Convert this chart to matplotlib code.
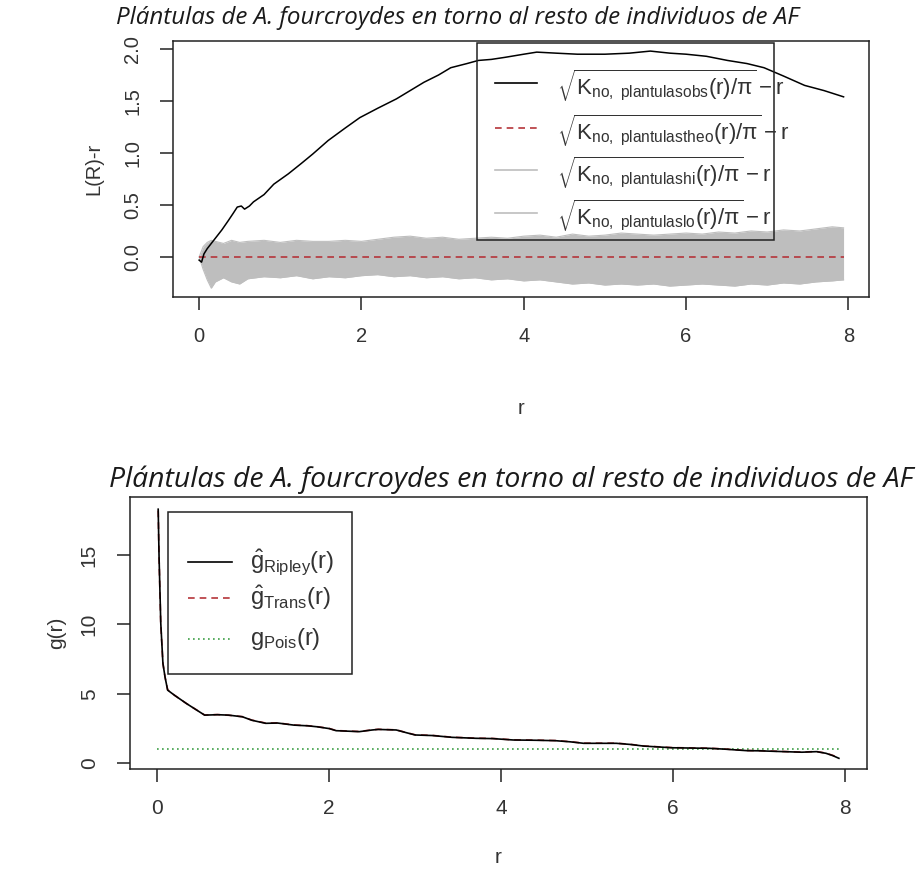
import matplotlib
matplotlib.use("Agg")
import matplotlib.pyplot as plt
from matplotlib.patches import Rectangle
from matplotlib.lines import Line2D

plt.rcParams['font.family'] = ['Liberation Sans', 'DejaVu Sans']
plt.rcParams['mathtext.fontset'] = 'custom'
plt.rcParams['mathtext.rm'] = 'Liberation Sans'
plt.rcParams['mathtext.it'] = 'Liberation Sans:italic'
plt.rcParams['mathtext.bf'] = 'Liberation Sans:bold'

# ---------------- data ----------------
title_text = "Plántulas de A. fourcroydes en torno al resto de individuos de AF"

# top panel: L-function
r_obs = [0, 0.03, 0.06, 0.1, 0.2, 0.28, 0.36, 0.42, 0.47, 0.52, 0.56, 0.62, 0.67, 0.8, 0.92,
         1.1, 1.26, 1.4, 1.59, 1.8, 1.98, 2.2, 2.43, 2.6, 2.77, 2.95, 3.1, 3.3, 3.44, 3.6,
         3.77, 4.0, 4.16, 4.4, 4.66, 5.0, 5.3, 5.56, 5.8, 6.0, 6.25, 6.51, 6.75, 6.96, 7.2,
         7.46, 7.7, 7.94]
L_obs = [-0.03, -0.05, 0.03, 0.08, 0.18, 0.26, 0.35, 0.42, 0.48, 0.49, 0.46, 0.49, 0.53,
         0.60, 0.70, 0.80, 0.90, 0.99, 1.12, 1.24, 1.34, 1.43, 1.52, 1.60, 1.68, 1.75, 1.82,
         1.86, 1.89, 1.90, 1.92, 1.95, 1.97, 1.96, 1.95, 1.95, 1.96, 1.98, 1.96, 1.95, 1.93,
         1.89, 1.86, 1.82, 1.74, 1.65, 1.60, 1.54]
r_theo = [0, 7.94]
L_theo = [0, 0]
r_env = [0, 0.05, 0.1, 0.15, 0.2, 0.3, 0.4, 0.5, 0.6, 0.8, 1.0, 1.2, 1.4, 1.6, 1.8, 2.0,
         2.2, 2.4, 2.6, 2.8, 3.0, 3.2, 3.4, 3.6, 3.8, 4.0, 4.2, 4.4, 4.6, 4.8, 5.0,
         5.2, 5.4, 5.6, 5.8, 6.0, 6.2, 6.4, 6.6, 6.8, 7.0, 7.2, 7.4, 7.6, 7.8, 7.94]
L_hi = [0.0, 0.10, 0.14, 0.16, 0.15, 0.13, 0.16, 0.14, 0.15, 0.16, 0.14, 0.16, 0.15, 0.15, 0.16,
        0.15, 0.17, 0.19, 0.20, 0.18, 0.19, 0.17, 0.18, 0.19, 0.18, 0.20, 0.21, 0.19, 0.22,
        0.20, 0.21, 0.23, 0.22, 0.21, 0.22, 0.23, 0.22, 0.24, 0.23, 0.25, 0.24, 0.26, 0.25,
        0.27, 0.29, 0.28]
L_lo = [0.0, -0.12, -0.22, -0.30, -0.24, -0.20, -0.24, -0.26, -0.21, -0.19, -0.20, -0.18,
        -0.21, -0.19, -0.20, -0.18, -0.17, -0.19, -0.18, -0.20, -0.19, -0.21, -0.20, -0.22,
        -0.21, -0.23, -0.22, -0.24, -0.26, -0.25, -0.27, -0.26, -0.27, -0.26, -0.28, -0.27,
        -0.26, -0.27, -0.28, -0.26, -0.27, -0.25, -0.26, -0.24, -0.23, -0.22]

# bottom panel: pair correlation function
r_g = [0.01, 0.02, 0.04, 0.065, 0.09, 0.12, 0.2, 0.34, 0.55, 0.7, 0.83, 0.99, 1.1, 1.26,
       1.4, 1.59, 1.75, 1.86, 2.0, 2.08, 2.35, 2.5, 2.57, 2.78, 2.9, 3.0, 3.2, 3.43, 3.71,
       3.9, 4.14, 4.4, 4.63, 4.8, 4.96, 5.34, 5.5, 5.66, 5.99, 6.2, 6.42, 6.6, 6.86, 7.0,
       7.29, 7.5, 7.67, 7.78, 7.86, 7.93]
g_ripley = [18.3, 14.9, 10.1, 7.2, 6.2, 5.27, 4.9, 4.3, 3.47, 3.50, 3.47, 3.35, 3.10, 2.88,
            2.90, 2.75, 2.70, 2.63, 2.50, 2.35, 2.28, 2.40, 2.44, 2.40, 2.20, 2.04, 2.00, 1.87,
            1.80, 1.78, 1.68, 1.66, 1.63, 1.55, 1.44, 1.44, 1.36, 1.24, 1.12, 1.10, 1.08, 1.02,
            0.91, 0.90, 0.84, 0.80, 0.84, 0.72, 0.55, 0.36]
g_trans = [18.2, 14.8, 10.0, 7.2, 6.2, 5.3, 4.9, 4.3, 3.48, 3.51, 3.46, 3.36, 3.11, 2.90,
           2.91, 2.76, 2.71, 2.64, 2.51, 2.36, 2.29, 2.41, 2.45, 2.41, 2.21, 2.05, 2.01, 1.88,
           1.81, 1.79, 1.69, 1.67, 1.64, 1.56, 1.45, 1.45, 1.37, 1.25, 1.13, 1.11, 1.09, 1.03,
           0.92, 0.91, 0.85, 0.81, 0.85, 0.73, 0.57, 0.38]
r_pois = [0, 7.94]
g_pois = [1, 1]

xticks = [0, 2, 4, 6, 8]
top_yticks = [0.0, 0.5, 1.0, 1.5, 2.0]
top_yticklabels = ["0.0", "0.5", "1.0", "1.5", "2.0"]
bot_yticks = [0, 5, 10, 15]

top_legend = [r'$\sqrt{\mathrm{K}_{\mathrm{no,\ plantulasobs}}(\mathrm{r})/\mathrm{π}}-\mathrm{r}$',
              r'$\sqrt{\mathrm{K}_{\mathrm{no,\ plantulastheo}}(\mathrm{r})/\mathrm{π}}-\mathrm{r}$',
              r'$\sqrt{\mathrm{K}_{\mathrm{no,\ plantulashi}}(\mathrm{r})/\mathrm{π}}-\mathrm{r}$',
              r'$\sqrt{\mathrm{K}_{\mathrm{no,\ plantulaslo}}(\mathrm{r})/\mathrm{π}}-\mathrm{r}$']
bot_legend = [r'$\hat{\mathrm{g}}_{\mathrm{Ripley}}(\mathrm{r})$',
              r'$\hat{\mathrm{g}}_{\mathrm{Trans}}(\mathrm{r})$',
              r'$\mathrm{g}_{\mathrm{Pois}}(\mathrm{r})$']

RED = '#b5353a'
GREEN = '#3c9e45'
GREY = '#bebebe'

W, H = 917, 884
fig = plt.figure(figsize=(W / 100, H / 100), dpi=100)


def ax_at(l, t, r, b):
    return fig.add_axes([l / W, 1 - b / H, (r - l) / W, (b - t) / H])


def style(ax, fs):
    ax.set_xlim(-0.318, 8.257)
    for s in ax.spines.values():
        s.set_linewidth(1.1)
        s.set_color('#222222')
    ax.tick_params(direction='out', length=9.5, width=1.1, colors='#222222',
                   labelsize=fs, labelcolor='#333333')
    ax.tick_params(axis='x', pad=12)
    ax.tick_params(axis='y', pad=13)
    ax.set_xticks(xticks)
    for lab in ax.get_yticklabels():
        lab.set_rotation(90)
        lab.set_va('center')


# ---------- top ----------
ax1 = ax_at(173.3, 41, 869.3, 297)
ax1.fill_between(r_env, L_lo, L_hi, color=GREY, lw=0)
ax1.plot(r_env, L_hi, color=GREY, lw=0.8)
ax1.plot(r_env, L_lo, color=GREY, lw=0.8)
ax1.plot(r_theo, L_theo, color=RED, lw=1.2, ls=(0, (4, 3)))
ax1.plot(r_obs, L_obs, color='black', lw=1.1)
ax1.set_ylim(-0.385, 2.077)
ax1.set_yticks(top_yticks)
ax1.set_yticklabels(top_yticklabels)
style(ax1, 14.5)
ax1.set_xlabel('r', fontsize=14.5, labelpad=38, color='#333333')
ax1.set_ylabel('L(R)-r', fontsize=14.5, labelpad=14, color='#333333')

T = ax1.transAxes
ax1.add_patch(Rectangle((0.436, 0.223), 0.863 - 0.436, 0.993 - 0.223, transform=T,
                        fill=False, edgecolor='#222222', lw=1.1, zorder=5))
rows = [0.836, 0.660, 0.496, 0.328]
styles = [('black', '-'), (RED, (0, (4, 3))), (GREY, '-'), (GREY, '-')]
for yy, (c, ls), txt in zip(rows, styles, top_legend):
    ax1.add_line(Line2D([0.462, 0.522], [yy, yy], transform=T, color=c, ls=ls, lw=1.2, zorder=6))
    ax1.text(0.551, yy - 0.01, txt, transform=T, fontsize=16, va='center', ha='left',
             color='#333333', zorder=7, clip_on=False)

# ---------- bottom ----------
ax2 = ax_at(130, 497, 867, 769)
ax2.plot(r_pois, g_pois, color=GREEN, lw=1.2, ls=(0, (1, 2)))
ax2.plot(r_g, g_trans, color=RED, lw=1.2, ls=(0, (4, 3)))
ax2.plot(r_g, g_ripley, color='black', lw=1.2)
ax2.set_ylim(-0.41, 19.18)
ax2.set_yticks(bot_yticks)
style(ax2, 15)
ax2.set_xlabel('r', fontsize=15, labelpad=22, color='#333333')
ax2.set_ylabel('g(r)', fontsize=15, labelpad=10, color='#333333')

T2 = ax2.transAxes
ax2.add_patch(Rectangle((0.052, 0.349), 0.301 - 0.052, 0.946 - 0.349, transform=T2,
                        fill=False, edgecolor='#222222', lw=1.1, zorder=5))
rows2 = [0.762, 0.629, 0.478]
styles2 = [('black', '-'), (RED, (0, (4, 3))), (GREEN, (0, (1, 2)))]
for yy, (c, ls), txt in zip(rows2, styles2, bot_legend):
    ax2.add_line(Line2D([0.0787, 0.139], [yy, yy], transform=T2, color=c, ls=ls, lw=1.2, zorder=6))
    ax2.text(0.163, yy, txt, transform=T2, fontsize=17, va='center', ha='left',
             color='#333333', zorder=7)

fig.text(457 / W, 1 - 18 / H, title_text, fontsize=17.4, style='italic',
         family=['Open Sans', 'DejaVu Sans'], ha='center', va='center', color='#1a1a1a')
fig.text(511 / W, 1 - 480 / H, title_text, fontsize=20.4, style='italic',
         family=['Open Sans', 'DejaVu Sans'], ha='center', va='center', color='#1a1a1a')

fig.savefig('out.png', dpi=100, facecolor='white')
